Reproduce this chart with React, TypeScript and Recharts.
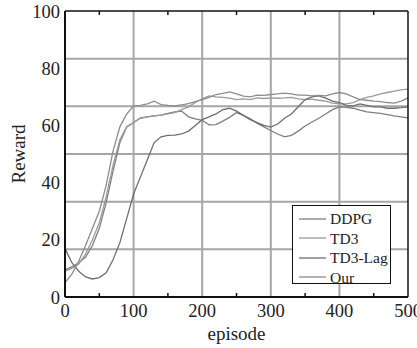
import React from 'react';
import { LineChart, Line, XAxis, YAxis, ReferenceLine, Legend } from 'recharts';

const episodes = [0, 10, 20, 30, 40, 50, 60, 70, 80, 90, 100, 110, 120, 130, 140, 150, 160, 170, 180, 190, 200, 210, 220, 230, 240, 250, 260, 270, 280, 290, 300, 310, 320, 330, 340, 350, 360, 370, 380, 390, 400, 410, 420, 430, 440, 450, 460, 470, 480, 490, 500];

const ddpg = [9.5, 10.5, 12, 14, 18, 24, 33, 44, 54, 59.5, 61, 62.6, 63, 63.3, 63.6, 64.2, 64.7, 65, 63, 62.3, 61.8, 60.2, 60.3, 61.5, 62.8, 64.5, 63.5, 62.3, 60.8, 59.5, 58.2, 57, 56, 56.5, 58, 59.8, 61.2, 62.5, 64, 65.5, 66.5, 66.3, 66, 65.3, 64.7, 64.5, 64.2, 63.8, 63.3, 63, 62.6];

const td3 = [9, 10, 11.5, 15, 20, 26, 35, 46, 55, 59.5, 61, 62.5, 63, 63.3, 63.6, 64, 64.5, 65.5, 66.5, 68, 69.3, 70.3, 70, 69.8, 69.5, 69, 69.3, 69, 69.6, 69.4, 69.6, 69.5, 69.6, 69.8, 69.3, 69, 69.2, 68.8, 68.5, 67.8, 67.5, 67.5, 68, 69, 69.8, 70.3, 71, 71.5, 72, 72.4, 72.7];

const td3Lag = [17, 12, 9, 7, 6.3, 6.8, 8.5, 13, 19, 27.5, 36, 42, 48, 54, 56, 56.5, 56.6, 57, 58, 60, 62, 63, 64, 65.5, 66, 65, 63.5, 62, 61, 60, 59.4, 60.5, 62.5, 64, 66.5, 69, 70, 70.3, 69.5, 68.5, 68, 67, 66.8, 67.5, 67, 66.5, 66.5, 66, 66, 66.2, 66.5];

const our = [5, 8, 12.5, 18, 24, 30, 39, 51, 59.5, 64, 66.8, 67, 67.5, 68.5, 67.3, 67, 66.8, 67.2, 67.6, 68.3, 69, 69.8, 70.8, 71.2, 71.7, 71, 70.2, 70, 70.6, 70.5, 70.8, 71, 71.3, 71, 70.6, 70.6, 70.3, 70.5, 70.3, 71, 71.5, 71, 70, 69, 68.8, 68.5, 68.3, 68, 67.8, 68.5, 69.6];

const seriesNames = ['DDPG', 'TD3', 'TD3-Lag', 'Our'];
const seriesKeys = ['ddpg', 'td3', 'td3Lag', 'our'];
const seriesColors = ['#7e7e7e', '#9a9a9a', '#6e6e6e', '#8c8c8c'];

const xTicks = [0, 100, 200, 300, 400, 500];
const xMinorTicks = [50, 150, 250, 350, 450];
const yTicks = [0, 20, 40, 60, 80, 100];
const yMinorTicks = [100 / 12, 300 / 12, 500 / 12, 700 / 12, 900 / 12, 1100 / 12];
const xGrid = [100, 200, 300, 400];
const yGrid = [100 / 6, 200 / 6, 300 / 6, 400 / 6, 500 / 6];

const data = episodes.map((e, i) => ({
  episode: e,
  ddpg: ddpg[i],
  td3: td3[i],
  td3Lag: td3Lag[i],
  our: our[i],
}));

const FONT = '"Liberation Serif", "Times New Roman", serif';
const emptyTick = () => <g />;

const renderLegend = () => (
  <div
    style={{
      boxSizing: 'border-box',
      width: 99,
      height: 79,
      border: '1.5px solid #111',
      background: '#fff',
      fontFamily: FONT,
      fontSize: 15.5,
      color: '#222',
      paddingTop: 3,
    }}
  >
    {seriesNames.map((n, i) => (
      <div key={n} style={{ display: 'flex', alignItems: 'center', height: 19.5, lineHeight: '19.5px' }}>
        <svg width={36} height={4} style={{ marginLeft: 5, flex: 'none' }}>
          <line x1={1} y1={2} x2={28} y2={2} stroke={seriesColors[i]} strokeWidth={1.3} />
        </svg>
        <span style={{ marginLeft: -4 }}>{n}</span>
      </div>
    ))}
  </div>
);

const RewardLabel = (props: any) => {
  const vb = props.viewBox || {};
  const x = vb.x + 25;
  const y = vb.y + vb.height / 2;
  return (
    <text x={x} y={y} transform={`rotate(-90, ${x}, ${y})`} textAnchor="middle" fontFamily={FONT} fontSize={19} fill="#222">
      Reward
    </text>
  );
};

export default function App() {
  return (
    <div style={{ position: 'absolute', left: 0, top: 0, width: 417, height: 348, background: '#fff' }}>
      <LineChart width={417} height={348} data={data} margin={{ top: 11, right: 9, bottom: 0, left: 0 }}>
        {xGrid.map((v) => (
          <ReferenceLine key={'gx' + v} x={v} stroke="#a6a6a6" strokeWidth={2} ifOverflow="extendDomain" />
        ))}
        {yGrid.map((v) => (
          <ReferenceLine key={'gy' + v} y={v} stroke="#a6a6a6" strokeWidth={2} />
        ))}
        <XAxis
          dataKey="episode"
          type="number"
          domain={[0, 500]}
          ticks={xTicks}
          tickLine={false}
          tickSize={0}
          tickMargin={7}
          height={51}
          axisLine={{ stroke: '#111', strokeWidth: 2 }}
          tick={{ fontFamily: FONT, fontSize: 18.5, fill: '#222' }}
          interval={0}
          label={{ value: 'episode', position: 'insideBottom', offset: 8, fontFamily: FONT, fontSize: 19, fill: '#222' }}
        />
        <XAxis
          xAxisId="bm"
          dataKey="episode"
          type="number"
          domain={[0, 500]}
          ticks={xMinorTicks}
          mirror
          tickSize={4}
          tick={emptyTick}
          tickLine={{ stroke: '#111', strokeWidth: 1.5 }}
          axisLine={false}
          interval={0}
        />
        <XAxis
          xAxisId="top"
          orientation="top"
          dataKey="episode"
          type="number"
          domain={[0, 500]}
          ticks={xMinorTicks}
          mirror
          tickSize={4}
          tick={emptyTick}
          tickLine={{ stroke: '#111', strokeWidth: 1.5 }}
          axisLine={{ stroke: '#111', strokeWidth: 1.5 }}
          interval={0}
        />
        <YAxis
          type="number"
          domain={[0, 100]}
          ticks={yTicks}
          width={65}
          tickLine={false}
          tickSize={0}
          tickMargin={5}
          axisLine={{ stroke: '#111', strokeWidth: 2 }}
          tick={{ fontFamily: FONT, fontSize: 18.5, fill: '#222' }}
          interval={0}
          label={<RewardLabel />}
        />
        <YAxis
          yAxisId="lm"
          type="number"
          domain={[0, 100]}
          ticks={yMinorTicks}
          mirror
          tickSize={4}
          tick={emptyTick}
          tickLine={{ stroke: '#111', strokeWidth: 1.5 }}
          axisLine={false}
          interval={0}
        />
        <YAxis
          yAxisId="right"
          orientation="right"
          type="number"
          domain={[0, 100]}
          ticks={yMinorTicks}
          mirror
          tickSize={4}
          tick={emptyTick}
          tickLine={{ stroke: '#111', strokeWidth: 1.5 }}
          axisLine={{ stroke: '#111', strokeWidth: 1.5 }}
          interval={0}
        />
        <Legend
          content={renderLegend}
          layout="horizontal"
          verticalAlign="middle"
          align="center"
          wrapperStyle={{ left: 292, top: 205, width: 99, height: 79 }}
        />
        {seriesKeys.map((k, i) => (
          <Line
            key={k}
            dataKey={k}
            name={seriesNames[i]}
            type="linear"
            stroke={seriesColors[i]}
            strokeWidth={1.3}
            dot={false}
            isAnimationActive={false}
          />
        ))}
      </LineChart>
    </div>
  );
}
